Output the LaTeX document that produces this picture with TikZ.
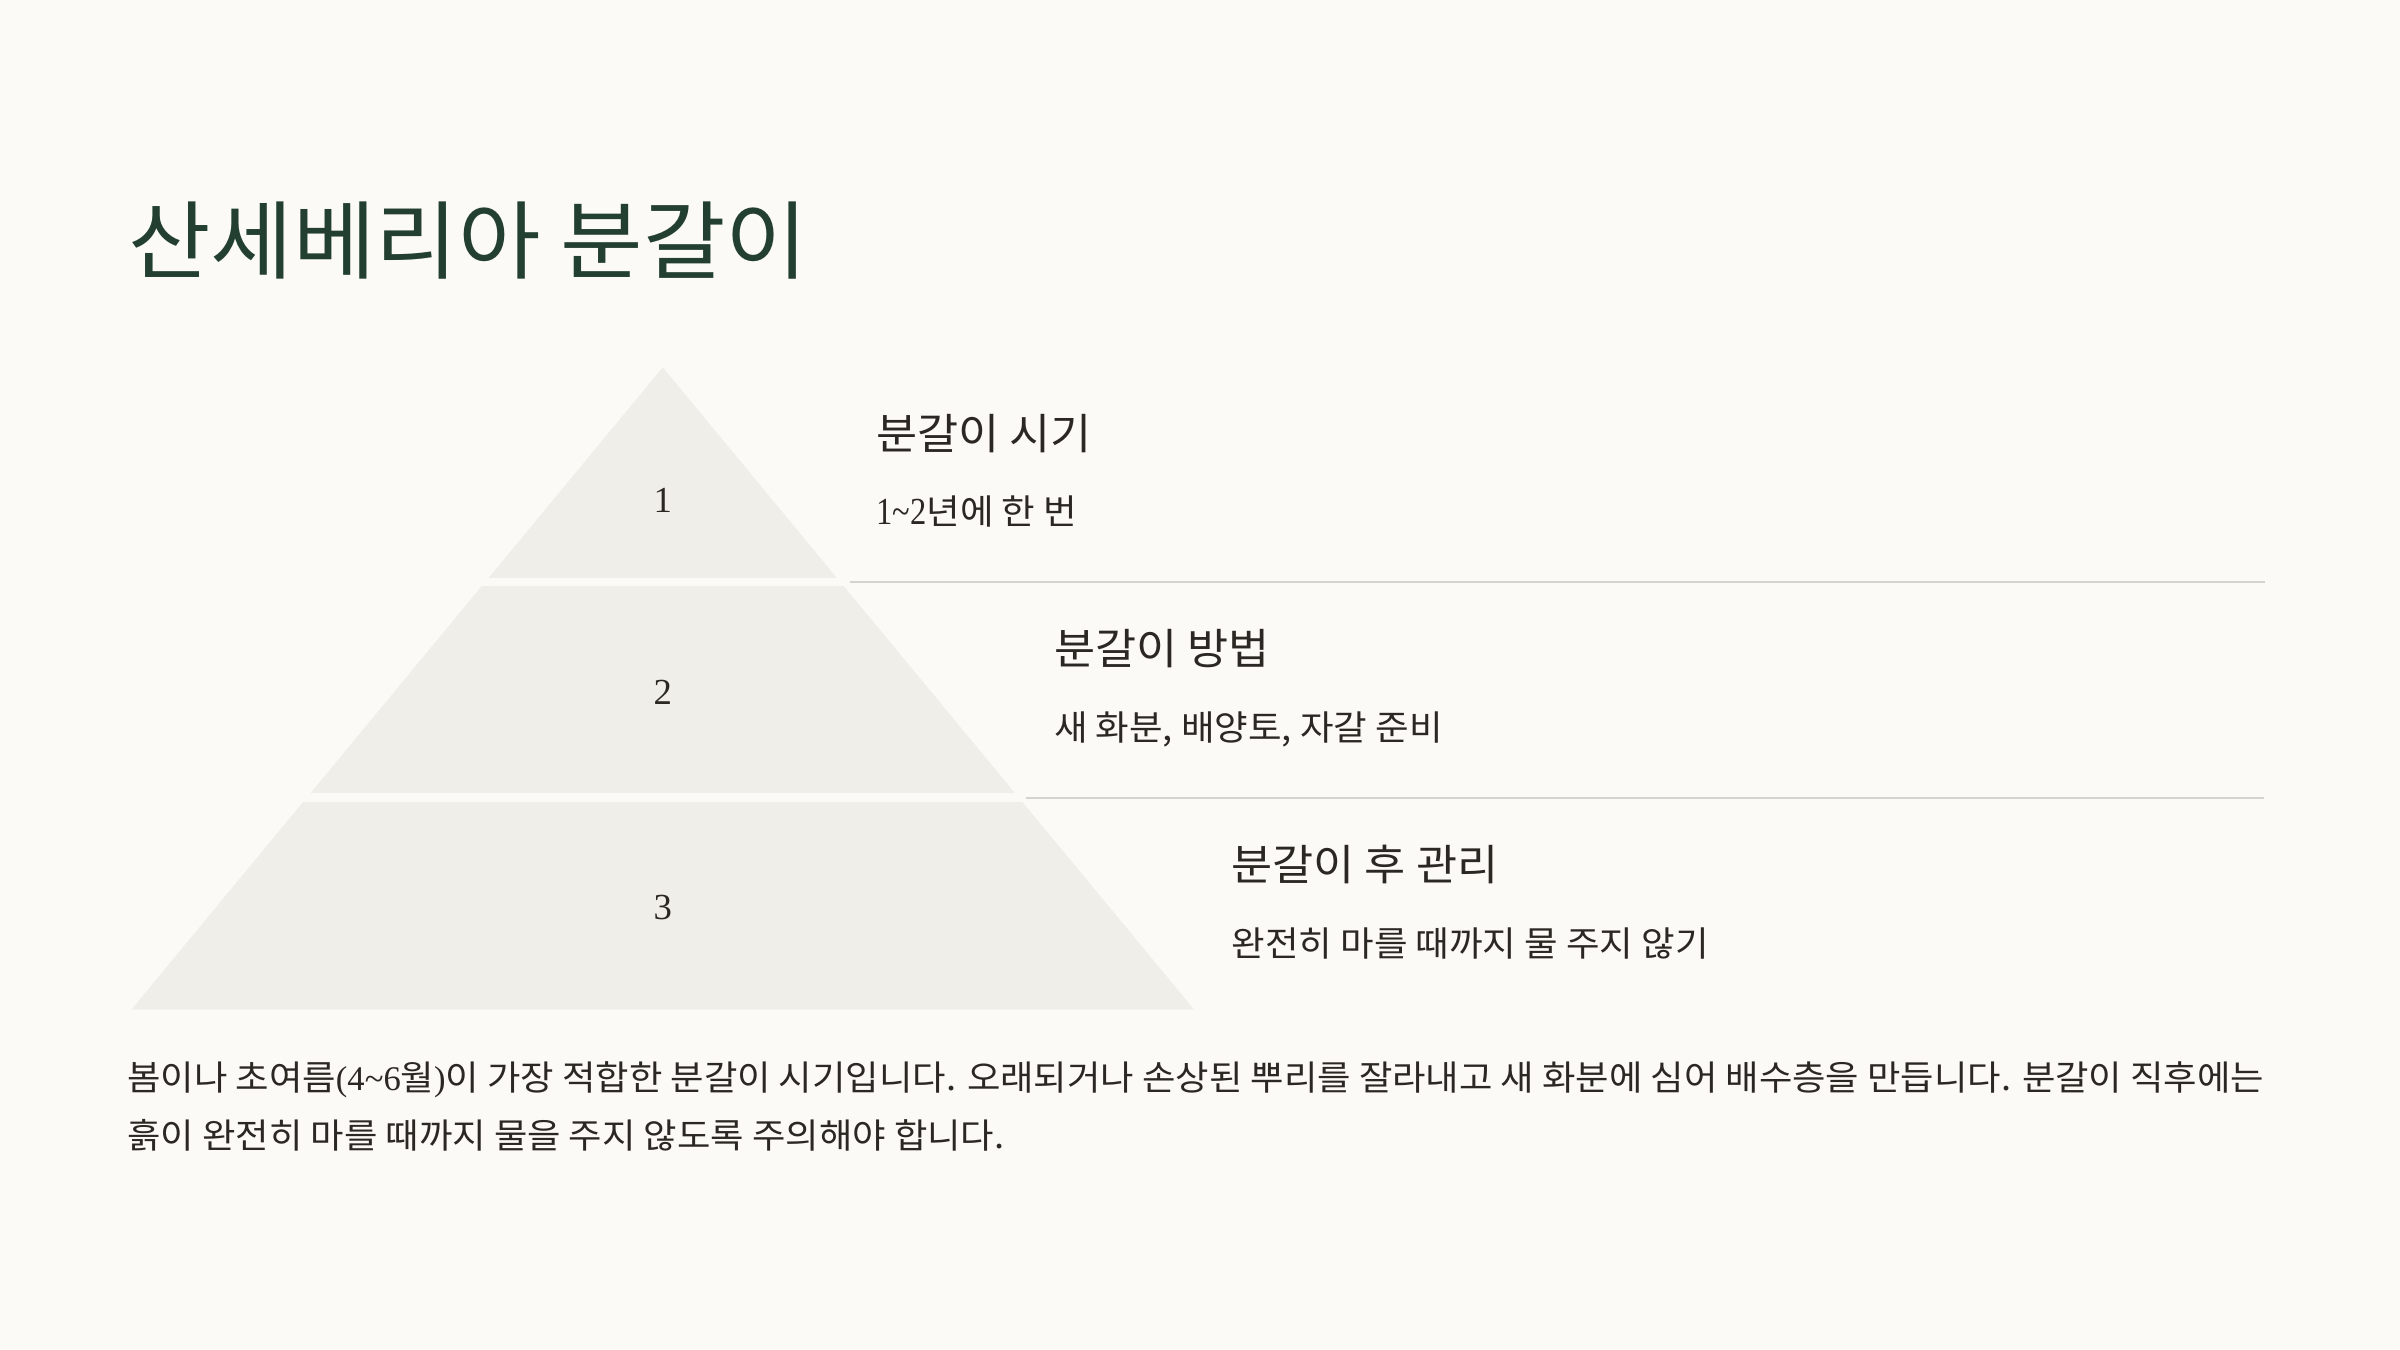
\documentclass[tikz,border=0pt]{standalone}
\usepackage{fontspec}
\setmainfont{Liberation Serif}
\newfontfamily\kofont[FakeStretch=1.05]{Noto Sans CJK KR}
\newfontfamily\numfont[FakeStretch=0.85]{Liberation Serif}
\usetikzlibrary{positioning}
\definecolor{bgcol}{HTML}{FBFAF6}
\definecolor{tiercol}{HTML}{F0EEE8}
\definecolor{titlecol}{HTML}{223F31}
\definecolor{textcol}{HTML}{2B2722}
\definecolor{rulecol}{HTML}{D5D3CD}
\begin{document}
\begin{tikzpicture}[x=1pt, y=-1pt, node distance=49.3pt,
  tier/.style={fill=tiercol},
  num/.style={font=\fontsize{24}{24}\selectfont, text=textcol, inner sep=0},
  title/.style={font=\kofont\fontsize{55.8}{60}\selectfont, text=titlecol, inner sep=0, anchor=base west},
  head/.style={font=\kofont\fontsize{27.8}{30}\selectfont, text=textcol, inner sep=0, anchor=base west},
  sub/.style={font=\kofont\fontsize{22.7}{24}\selectfont, text=textcol, inner sep=0},
  body/.style={font=\kofont\fontsize{22.6}{38}\selectfont, text=textcol, inner sep=0, align=left},
  sep/.style={draw=rulecol, line width=1pt}]
\fill[bgcol] (0,0) rectangle (1568,882);
\useasboundingbox (0,0) rectangle (1568,882);
% title
\node[title] (ttl) at (83.5,178) {산세베리아 분갈이};
% pyramid
\fill[tier] (433,240) -- (546.7,377.5) -- (319.3,377.5) -- cycle;
\fill[tier] (314.7,383) -- (551.3,383) -- (663,518) -- (203,518) -- cycle;
\fill[tier] (198,524) -- (668,524) -- (780.1,659.5) -- (85.9,659.5) -- cycle;
\node[num] (n1) at (433,327) {1};
\node[num] (n2) at (433,452) {2};
\node[num] (n3) at (433,593) {3};
% rules
\coordinate (r1a) at (555,380.2);
\coordinate (r1b) at (1480,380.2);
\coordinate (r2a) at (670,521.2);
\coordinate (r2b) at (1479,521.2);
\draw[sep] (r1a) -- (r1b);
\draw[sep] (r2a) -- (r2b);
% labels
\node[head] (h1) at (572.5,293.4) {분갈이 시기};
\node[sub] (s1) [below=of h1.base west, anchor=base west] {{\numfont\fontsize{25}{25}\selectfont 1\textasciitilde2}년에 한 번};
\node[head] (h2) at (688.5,434.4) {분갈이 방법};
\node[sub] (s2) [below=of h2.base west, anchor=base west] {새 화분, 배양토, 자갈 준비};
\node[head] (h3) at (804.5,575.4) {분갈이 후 관리};
\node[sub] (s3) [below=of h3.base west, anchor=base west] {완전히 마를 때까지 물 주지 않기};
% text
\node[body] (txt) at (83,750.5) [anchor=base west] {봄이나 초여름{\rmfamily(4\textasciitilde6}월{\rmfamily)}이 가장 적합한 분갈이 시기입니다. 오래되거나 손상된 뿌리를 잘라내고 새 화분에 심어 배수층을 만듭니다. 분갈이 직후에는\\흙이 완전히 마를 때까지 물을 주지 않도록 주의해야 합니다.};
\end{tikzpicture}
\end{document}
